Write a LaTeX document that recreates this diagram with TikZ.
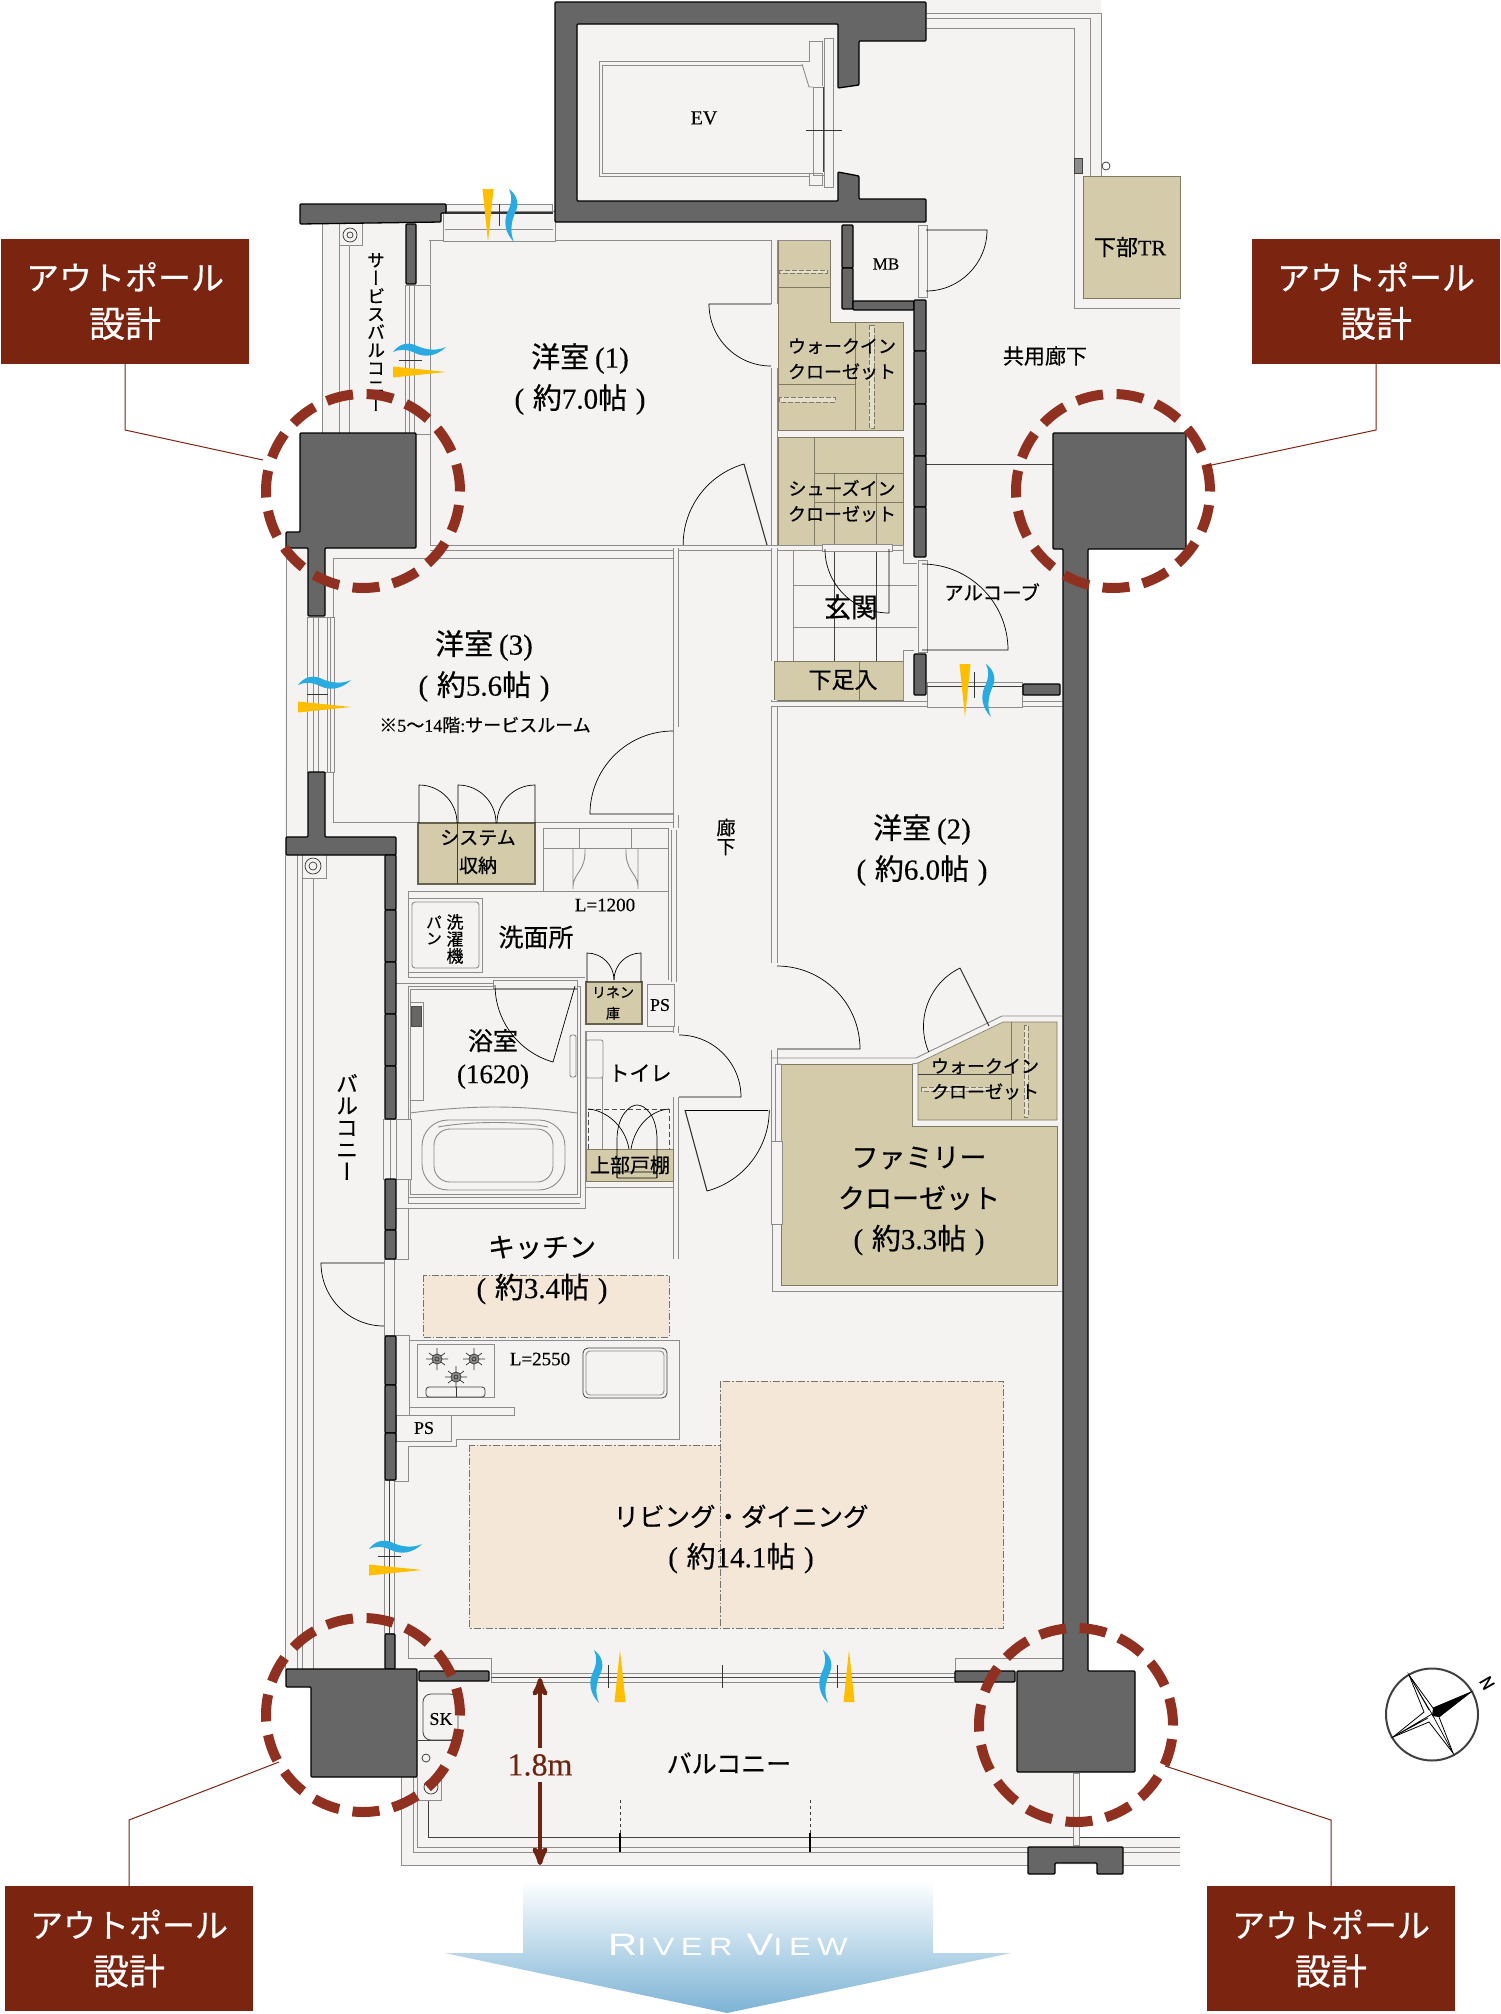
\documentclass[tikz,border=0pt]{standalone}
\usepackage{fontspec}
\setmainfont[FakeBold=0.3]{Liberation Serif}
\newfontfamily\jp[FakeBold=0.5]{Noto Sans CJK JP}
\newfontfamily\jpv[RawFeature={+vert}, FakeBold=0.5]{Noto Sans CJK JP}
\newfontfamily\riverf[LetterSpace=26, FakeStretch=1.3]{Liberation Sans}
\usetikzlibrary{arrows, positioning}
\newcommand{\ja}[1]{{\jp #1}}
\newcommand{\paren}[1]{(\hspace{.3em}#1\hspace{.3em})}
\definecolor{floorc}{HTML}{F4F3F1}
\definecolor{tanc}{HTML}{D3CBA9}
\definecolor{tanl}{HTML}{7E7A64}
\definecolor{wallc}{HTML}{666666}
\definecolor{ringc}{HTML}{8F3020}
\definecolor{boxc}{HTML}{7B2511}
\definecolor{peachc}{HTML}{F4E7D8}
\definecolor{lnc}{HTML}{8C8C8C}
\definecolor{blc}{HTML}{29ABE2}
\definecolor{ylc}{HTML}{FFBE00}
\definecolor{rivc}{HTML}{7CB3D5}
\definecolor{dimc}{HTML}{6E2410}
\tikzset{
  lbl/.style = {align=center, inner sep=0pt, text centered},
  big/.style = {lbl, font=\fontsize{29}{41}\selectfont},
  sml/.style = {lbl, font=\fontsize{18}{25.5}\selectfont},
  tate/.style = {lbl, font=\fontsize{#1}{#1}\selectfont\jpv},
  wbox/.style = {lbl, fill=boxc, text=white, minimum width=248pt, minimum height=125pt,
    font=\fontsize{33}{47}\selectfont},
  ln/.style = {draw=lnc, line width=0.9pt},
  dk/.style = {draw=black!75, line width=0.8pt},
  wl/.style = {draw=lnc, line width=0.9pt, double=floorc, double distance=4.5pt},
  tn/.style = {fill=tanc, draw=tanl, line width=0.6pt},
  tnb/.style = {fill=tanc, draw=tanl!80!black, line width=1.6pt},
  dsh/.style = {draw=tanl, fill=tanc!60!white, line width=0.6pt, dash pattern=on 5pt off 2pt},
  dr/.style = {draw=black, line width=0.7pt},
  leaf/.style = {draw=black!80, line width=1.1pt},
  pl/.style = {fill=wallc, draw=black, line width=1.3pt, rounded corners=1pt},
  ring/.style = {draw=ringc, line width=10pt, dash pattern=on 27pt off 13.6pt},
  cl/.style = {draw=boxc, line width=1pt},
  peach/.style = {fill=peachc, draw=black!55, line width=0.7pt, dash pattern=on 7pt off 2pt on 1.5pt off 2pt},
  wn/.style = {fill=floorc, draw=lnc, line width=0.9pt},
  tick/.style = {draw=black!80, line width=0.7pt},
  dimarrow/.style = {draw=dimc, line width=4.5pt, >=stealth'}
}
\begin{document}
\begin{tikzpicture}[x=1pt, y=-1pt]
\useasboundingbox (0,0) rectangle (1500,2014);

\fill[floorc] (322,210) -- (555,210) -- (555,2) -- (927,2) -- (927,0) -- (1101,0) -- (1101,176)
  -- (1180,176) -- (1180,433) -- (1062,433) -- (1062,1700) -- (1017,1700) -- (1017,1772) -- (1073,1772)
  -- (1073,1837) -- (1180,1837) -- (1180,1865) -- (401,1865) -- (401,1770) -- (320,1770) -- (320,1680)
  -- (285,1680) -- (285,840) -- (286,540) -- (322,540) -- cycle;

\draw[ln] (927,13) -- (1101,13) -- (1101,176);
\draw[ln] (927,18) -- (1090,18) -- (1090,176);
\draw[ln] (927,28) -- (1074,28) -- (1074,308) -- (1180,308);
\draw[tn] (1083,176) -- (1180,176) -- (1180,298) -- (1083,298) -- cycle;
\draw[dk, fill=lnc] (1074,158) rectangle (1082,173);
\draw[dk] (1106,166) circle[radius=4pt];
\draw[dk] (926,464) -- (1053,464);

\draw[ln] (802,61) -- (599,61) -- (599,176) -- (809,176);
\draw[ln] (802,65) -- (602,65) -- (602,173) -- (809,173);
\draw[ln] (599,61) -- (809,61) -- (809,41) -- (822,41) -- (822,86);
\draw[ln] (802,64) -- (809,87) -- (813,87);
\draw[ln] (809,173) rectangle (822,185);
\draw[ln] (824,38) rectangle (833,187);
\draw[ln] (813,87) rectangle (824,175);
\draw[dk] (823,87) -- (823,172);
\draw[tick] (806,130) -- (842,130);
\node[lbl, font=\fontsize{20}{24}\selectfont] (evlbl) at (704,118) {EV};

\fill[tanc] (778,240) -- (830,240) -- (830,322) -- (903,322) -- (903,430) -- (778,430) -- cycle;
\draw[tn] (778,240) -- (830,240) -- (830,322) -- (903,322) -- (903,430) -- (778,430) -- cycle;
\draw[tn] (778,287) -- (830,287) (778,384) -- (855,384) (855,322) -- (855,430);
\draw[dsh] (779,270) rectangle (827,273);
\draw[dsh] (779,397) rectangle (835,402);
\draw[dsh] (869,325) rectangle (874,428);
\draw[tn] (778,437) rectangle (903,545);
\draw[tn] (814,437) -- (814,545) (814,473) -- (903,473) (814,502) -- (903,502) (834,473) -- (834,545) (876,473) -- (876,545);
\draw[tn] (774,661) rectangle (903,700);
\draw[tn] (859,661) -- (859,700);

\draw[ln] (429,240) -- (830,240);
\draw[wl] (774.5,240) -- (774.5,304);
\draw[wl] (774.5,368) -- (774.5,545);
\draw[ln] (430,284) -- (430,240);
\draw[ln] (430,434) -- (430,545);
\draw[wl] (430,548) -- (822,548);
\draw[wl] (892,548) -- (903,548);
\draw[ln] (903,545) -- (903,563) -- (917,563);
\draw[ln] (903,700) -- (903,650) -- (914,650);
\draw[ln] (333,558) rectangle (673,822);
\draw[wl] (676,548) -- (676,727);
\draw[wl] (676,815) -- (676,828);
\draw[wl] (676,1033) -- (676,1026);
\draw[wl] (676,1097) -- (676,1259);
\draw[wl] (774.5,548) -- (774.5,661);
\draw[wl] (774.5,700) -- (774.5,963);
\draw[wl] (774.5,1050) -- (774.5,1141);
\draw[ln] (772,1224) -- (772,1291) -- (1062,1291);
\draw[wl] (771,704) -- (1062,704);
\draw[ln] (793,551) -- (793,661) (793,585) -- (917,585) (793,627) -- (917,627);
\draw[dk] (834,551) -- (834,661) (876,551) -- (876,661);

\draw[tn] (781,1064) -- (912,1064) -- (912,1126) -- (1057,1126) -- (1057,1285) -- (781,1285) -- cycle;
\draw[tn] (918,1063) -- (1003,1022) -- (1057,1022) -- (1057,1120) -- (918,1120) -- cycle;
\draw[tn] (1011,1022) -- (1011,1120);
\draw[dk] (918,1074) -- (1011,1074);
\draw[dsh] (921,1087) rectangle (990,1091);
\draw[dsh] (1024,1025) rectangle (1028,1117);
\draw[ln] (772,1058) -- (916,1058) -- (1002,1016) -- (1062,1016);
\draw[ln] (777,1064) -- (781,1064) (912,1064) -- (918,1063);

\draw[tnb] (418,823) rectangle (535,884);
\draw[dk] (457,823) -- (457,884);
\draw[dr] (419,823) -- (419,785) arc[start angle=90, end angle=0, radius=38pt];
\draw[dr] (458,823) -- (458,785) arc[start angle=90, end angle=0, radius=38pt];
\draw[dr] (535,823) -- (535,785) arc[start angle=90, end angle=180, radius=38pt];

\draw[ln] (543,828) rectangle (668,891);
\draw[ln] (543,848) -- (668,848) (579,828) -- (579,848) (631,828) -- (631,848);
\draw[ln] (573,848) -- (573,889) (585,848) .. controls (586,872) and (574,872) .. (573,886);
\draw[ln] (638,848) -- (638,889) (626,848) .. controls (625,872) and (637,872) .. (638,886);
\draw[ln] (408,891) -- (543,891);
\draw[ln] (408,891) -- (408,977) -- (585,977);
\draw[wl] (674,830) -- (674,982);
\draw[ln] (668,891) -- (668,980);
\draw[ln] (408,898) rectangle (482,972);
\draw[ln, rounded corners=3pt] (412,902) rectangle (479,968);
\draw[ln] (396,983) -- (493,983);

\draw[ln] (408,986) rectangle (580,1197);
\draw[ln] (410,989) rectangle (577,1194);
\draw[ln] (585,1031) -- (585,1208) -- (396,1208);
\draw[ln] (580,1203) -- (408,1203) -- (408,1197);
\draw[wn] (493,980) rectangle (577,988);
\draw[dr] (575,986) -- (553,1062) arc[start angle=254, end angle=180, radius=80pt];
\draw[ln] (410,1002) rectangle (423,1100);
\draw[fill=black!60, draw=black!70] (411,1006) rectangle (421,1026);
\draw[ln, rounded corners=2pt] (570,1035) rectangle (576,1077);
\draw[ln] (410,1113) .. controls (470,1105) and (520,1105) .. (577,1113);
\draw[ln, rounded corners=26pt] (422,1120) rectangle (565,1190);
\draw[ln, rounded corners=16pt] (434,1129) rectangle (553,1182);
\draw[ln] (438,1127) .. controls (470,1121) and (520,1121) .. (548,1127);

\draw[tnb] (586,982) rectangle (642,1024);
\draw[dr] (587,982) -- (587,953) arc[start angle=90, end angle=0, radius=27pt];
\draw[dr] (641,982) -- (641,953) arc[start angle=90, end angle=180, radius=27pt];
\draw[ln] (647,984) rectangle (674,1026);

\draw[ln] (586,1181) -- (586,1031) -- (673,1031);
\draw[ln, rounded corners=2pt] (586,1040) rectangle (603,1078);
\draw[ln] (602,1078) -- (602,1149);
\draw[tn] (586,1149) rectangle (673,1181);
\draw[draw=black!70, line width=0.6pt, dash pattern=on 5pt off 3pt] (588,1149) -- (588,1109) -- (669,1109) -- (669,1149);
\draw[dr] (588,1109) .. controls (605,1110) and (625,1125) .. (629,1149);
\draw[dr] (669,1109) .. controls (652,1110) and (635,1125) .. (631,1149);
\draw[dr] (617,1178) -- (617,1140) .. controls (617,1115) and (630,1105) .. (637,1105) .. controls (645,1105) and (657,1115) .. (657,1140) -- (657,1178);
\draw[dr, rounded corners=1pt] (617,1172) rectangle (657,1178);
\draw[ln] (585,1187) -- (673,1187);

\draw[ln] (408,1208) -- (408,1259) -- (387,1259);
\draw[peach] (423,1275) rectangle (669,1337);
\draw[peach] (469,1445) rectangle (720,1628);
\draw[peach] (720,1381) rectangle (1003,1628);
\draw[ln] (387,1335) -- (409,1335) -- (409,1340) -- (679,1340) -- (679,1439) -- (456,1439) -- (456,1446) -- (408,1446) -- (408,1481) -- (394,1481);
\draw[ln] (409,1340) -- (409,1407);
\draw[ln] (417,1344) rectangle (494,1397);
\foreach \bx/\by in {437/1359, 474/1359, 456/1377} {
  \draw[tick] (\bx-11,\by) -- (\bx+11,\by) (\bx,\by-11) -- (\bx,\by+11)
    (\bx-8,\by-6) -- (\bx+8,\by+6) (\bx-8,\by+6) -- (\bx+8,\by-6);
  \draw[dk, fill=lnc] (\bx,\by) circle[radius=5pt];
  \draw[tick] (\bx,\by) circle[radius=2pt];
}
\draw[dk, rounded corners=3pt] (426,1387) -- (426,1397) -- (485,1397) -- (485,1387) -- cycle;
\draw[tick] (456,1387) -- (456,1397);
\draw[dk, rounded corners=5pt] (583,1348) rectangle (667,1398);
\draw[ln, rounded corners=4pt] (586,1351) rectangle (664,1395);
\draw[ln, fill=floorc] (409,1407) rectangle (514,1415);
\draw[ln] (396,1415) rectangle (451,1441);

\draw[ln] (408,1631) -- (408,1658) -- (491,1658) -- (491,1673);
\draw[ln] (955,1673) -- (955,1658) -- (1063,1658);
\draw[ln] (491,1673) rectangle (955,1682);
\draw[draw=black!70, line width=1.5pt] (491,1677.5) -- (955,1677.5);
\foreach \tx in {608, 722, 837} \draw[tick] (\tx,1665) -- (\tx,1688);

\draw[wn] (443,211) rectangle (555,241);
\draw[wn] (446,204) rectangle (552,211);
\draw[draw=black!80, line width=1.3pt] (445,213) -- (553,213);
\draw[ln] (445,229) -- (553,229);
\draw[tick] (499,204) -- (499,226);
\draw[wn] (405,285) rectangle (430,434);
\draw[ln] (409,285) -- (409,434) (414,285) -- (414,434);
\draw[tick] (399,360) -- (422,360);
\draw[wn] (307,617) rectangle (334,772);
\draw[ln] (313,617) -- (313,772) (318,617) -- (318,772) (327,617) -- (327,772) (330,617) -- (330,772);
\draw[tick] (307,694) -- (328,694);
\draw[wn] (384,1480) rectangle (394,1633);
\draw[dk] (389,1480) -- (389,1633);
\draw[tick] (378,1556) -- (401,1556);
\draw[wn] (384,1259) rectangle (394,1335);
\draw[wn] (383,1119) rectangle (411,1179);
\draw[ln] (390,1119) -- (390,1179) (396,1119) -- (396,1179);
\draw[wn] (927,682) rectangle (1022,707);
\draw[dk] (927,686) -- (1022,686);
\draw[tick] (974,672) -- (974,698);
\draw[wn] (918,225) rectangle (927,297);
\draw[wn] (918,560) rectangle (927,652);
\draw[wn] (771,1141) rectangle (782,1224);
\draw[wn] (775,1064) rectangle (781,1141);
\draw[wn] (822,544) rectangle (892,551);

\draw[dr] (771,304) -- (709,304) arc[start angle=180, end angle=270, radius=62pt];
\draw[leaf] (767,545) -- (744,464);
\draw[dr] (744,464) arc[start angle=106, end angle=180, radius=84pt];
\draw[dr] (926,230) -- (987,230) arc[start angle=0, end angle=-90, radius=61pt];
\draw[dr] (889,549) -- (889,613) arc[start angle=270, end angle=180, radius=64pt];
\draw[dr] (673,814) -- (590,814) arc[start angle=180, end angle=90, radius=83pt];
\draw[dr] (922,650) -- (1008,650) arc[start angle=0, end angle=90, radius=86pt];
\draw[dr] (777,1049) -- (860,1049) arc[start angle=0, end angle=90, radius=83pt];
\draw[leaf] (989,1026) -- (960,968);
\draw[dr] (960,968) arc[start angle=116, end angle=203, radius=65pt];
\draw[dr] (679,1097) -- (741,1097) arc[start angle=0, end angle=90, radius=62pt];
\draw[dr] (685,1110) -- (768,1110);
\draw[leaf] (685,1110) -- (707,1191);
\draw[dr] (707,1191) arc[start angle=285, end angle=360, radius=84pt];
\draw[dr] (384,1263) -- (321,1263) arc[start angle=180, end angle=270, radius=63pt];

\draw[ln] (322,224) -- (322,434) (339,224) -- (339,434) (349,245) -- (349,434);
\draw[ln] (339,245) -- (362,245) -- (362,224);
\draw[tick] (350,235) circle[radius=7pt];
\draw[tick] (350,235) circle[radius=3pt];
\draw[ln] (285,855) -- (285,1669) (297,855) -- (297,1669) (302,855) -- (302,1669) (313,878) -- (313,1669);
\draw[ln] (302,878) -- (326,878) -- (326,855);
\draw[tick] (313,866) circle[radius=8pt];
\draw[tick] (313,866) circle[radius=4pt];
\draw[ln] (286,540) -- (286,837);

\draw[ln] (401,1777) -- (401,1865) -- (1028,1865);
\draw[ln] (1123,1865) -- (1180,1865);
\draw[ln] (413,1777) -- (413,1852) -- (1028,1852);
\draw[ln] (1123,1852) -- (1180,1852);
\draw[ln] (417,1777) -- (417,1847) -- (1028,1847);
\draw[ln] (1123,1847) -- (1180,1847);
\draw[dk] (428,1800) -- (428,1837) -- (1180,1837);
\draw[ln] (417,1800) -- (441,1800) -- (441,1777);
\draw[tick] (431,1787) circle[radius=7pt];
\foreach \px in {620, 810} {
  \draw[dk, dashed] (\px,1800) -- (\px,1833);
  \draw[draw=black, line width=1.5pt] (\px,1833) -- (\px,1852);
}
\draw[wn] (1073,1773) rectangle (1079,1845);
\draw[dk, rounded corners=8pt] (423,1694) rectangle (458,1740);
\draw[dk] (418,1740) -- (458,1740);
\draw[dk] (426,1758) circle[radius=4pt];

\draw[pl] (555,2) -- (926,2) -- (926,41) -- (859,41) -- (859,85) -- (838,88) -- (838,24) -- (577,24)
  -- (577,201) -- (838,201) -- (838,172) -- (859,176) -- (859,199) -- (926,199) -- (926,222) -- (555,222) -- cycle;
\draw[pl] (300,204) -- (446,204) -- (446,213) -- (441,213) -- (441,222) -- (300,224) -- cycle;
\draw[pl] (406,224) rectangle (416,284);
\draw[pl] (300,433) -- (416,433) -- (416,548) -- (325,548) -- (325,616) -- (308,616) -- (308,548) -- (286,548) -- (286,532) -- (300,532) -- cycle;
\draw[pl] (308,772) -- (325,772) -- (325,837) -- (396,837) -- (396,855) -- (286,855) -- (286,837) -- (308,837) -- cycle;
\foreach \ya/\yb in {855/910, 910/962, 962/1014, 1014/1066, 1066/1119, 1179/1230, 1230/1259, 1336/1385, 1385/1433, 1433/1480}
  \draw[pl] (385,\ya) rectangle (396,\yb);
\draw[pl] (385,1634) rectangle (395,1669);
\draw[pl] (842,225) rectangle (853,268);
\draw[pl] (842,268) rectangle (853,309);
\draw[pl] (853,301) rectangle (914,310);
\foreach \ya/\yb in {300/351, 351/404, 404/456, 456/507, 507/557}
  \draw[pl] (914,\ya) rectangle (926,\yb);
\draw[pl] (914,654) rectangle (926,695);
\draw[pl] (1023,684) rectangle (1060,695);
\draw[pl] (1053,433) -- (1186,433) -- (1186,549) -- (1088,549) -- (1088,1671) -- (1135,1671) -- (1135,1772) -- (1017,1772) -- (1017,1671) -- (1063,1671) -- (1063,549) -- (1053,549) -- cycle;
\draw[pl] (286,1669) -- (417,1669) -- (417,1777) -- (311,1777) -- (311,1687) -- (286,1687) -- cycle;
\draw[pl] (419,1671) rectangle (489,1681);
\draw[pl] (955,1671) rectangle (1015,1682);
\draw[pl] (1028,1847) -- (1123,1847) -- (1123,1874) -- (1097,1874) -- (1097,1863) -- (1055,1863) -- (1055,1874) -- (1028,1874) -- cycle;

\foreach \wx/\wy in {393/352, 298/685, 369/1549}
  \fill[blc, shift={(\wx,\wy)}] (0,0) .. controls (6,-8) and (14,-10) .. (22,-7) .. controls (30,-3) and (42,0) .. (53,-5)
    .. controls (44,4) and (32,6) .. (22,1) .. controls (14,-3) and (6,-3) .. (0,0);
\foreach \wx/\wy in {393/372, 298/707, 369/1570}
  \fill[ylc] (\wx,\wy-5.5) -- (\wx+53,\wy) -- (\wx,\wy+5.5) -- cycle;
\foreach \wx/\wy in {509/189, 986/664, 594/1650, 823/1650}
  \fill[blc, shift={(\wx,\wy)}] (0,0) .. controls (8,6) and (10,14) .. (7,22) .. controls (3,30) and (0,42) .. (5,53)
    .. controls (-4,44) and (-6,32) .. (-1,22) .. controls (3,14) and (3,6) .. (0,0);
\foreach \wx/\wy in {488/189, 965/664}
  \fill[ylc] (\wx-5.5,\wy) -- (\wx+5.5,\wy) -- (\wx,\wy+53) -- cycle;
\foreach \wx in {620, 849}
  \fill[ylc] (\wx-5.5,1702) -- (\wx+5.5,1702) -- (\wx,1650) -- cycle;

\node[big] (room1) at (580,379) {\ja{洋室}\hspace{.2em}(1)\\\paren{\ja{約}7.0\ja{帖}}};
\node[big] (room3) at (484,666) {\ja{洋室}\hspace{.2em}(3)\\\paren{\ja{約}5.6\ja{帖}}};
\node[lbl, font=\fontsize{18}{20}\selectfont] (room3note) at (485,725) {\ja{※}5\ja{〜}14\ja{階}:\ja{サービスルーム}};
\node[big] (room2) at (922,850) {\ja{洋室}\hspace{.2em}(2)\\\paren{\ja{約}6.0\ja{帖}}};
\node[big, font=\fontsize{27}{41}\selectfont] (famcl) at (919,1201) {\ja{ファミリー}\\\ja{クローゼット}\\{\fontsize{29}{41}\selectfont\paren{\ja{約}3.3\ja{帖}}}};
\node[big, font=\fontsize{27}{41}\selectfont] (kitch) at (542,1270) {\ja{キッチン}\\{\fontsize{29}{41}\selectfont\paren{\ja{約}3.4\ja{帖}}}};
\node[big, font=\fontsize{25.5}{41}\selectfont] (living) at (741,1539) {\ja{リビング・ダイニング}\\{\fontsize{29}{41}\selectfont\paren{\ja{約}14.1\ja{帖}}}};
\node[sml] (wic1) at (842,359) {\ja{ウォークイン}\\\ja{クローゼット}};
\node[sml] (sic) at (842,501) {\ja{シューズイン}\\\ja{クローゼット}};
\node[sml] (wic2) at (985,1079) {\ja{ウォークイン}\\\ja{クローゼット}};
\node[sml, font=\fontsize{21}{24}\selectfont] (kyoyo) at (1045,356) {\ja{共用廊下}};
\node[sml, font=\fontsize{19.5}{24}\selectfont] (alc) at (992,592) {\ja{アルコーブ}};
\node[lbl, font=\fontsize{27}{30}\selectfont] (genkan) at (851,607) {\ja{玄関}};
\node[lbl, font=\fontsize{23}{26}\selectfont] (getabako) at (843,680) {\ja{下足入}};
\node[lbl, font=\fontsize{22}{24}\selectfont] (tr) at (1130,247) {\ja{下部}TR};
\node[lbl, font=\fontsize{17}{20}\selectfont] (mb) at (886,264) {MB};
\node[lbl, font=\fontsize{19}{28}\selectfont] (sys) at (478,852) {\ja{システム}\\\ja{収納}};
\node[lbl, font=\fontsize{19}{21}\selectfont] (l1200) at (605,905) {L=1200};
\node[lbl, font=\fontsize{25}{28}\selectfont] (senmen) at (536,937) {\ja{洗面所}};
\node[tate=16] (pan) at (434,930) {パ\\ン};
\node[tate=17] (sentaku) at (455,939) {洗\\濯\\機};
\node[big, font=\fontsize{27}{33}\selectfont] (bath) at (493,1059) {{\fontsize{25}{33}\selectfont\ja{浴室}}\\(1620)};
\node[lbl, font=\fontsize{14}{21}\selectfont] (linen) at (613,1003) {\ja{リネン}\\\ja{庫}};
\node[lbl, font=\fontsize{18}{20}\selectfont] (ps1) at (660,1005) {PS};
\node[lbl, font=\fontsize{21}{24}\selectfont] (toilet) at (640,1073) {\ja{トイレ}};
\node[lbl, font=\fontsize{20}{22}\selectfont] (jobu) at (630,1165) {\ja{上部戸棚}};
\node[tate=19] (roka) at (726,837) {廊\\下};
\node[lbl, font=\fontsize{19}{21}\selectfont] (l2550) at (540,1359) {L=2550};
\node[lbl, font=\fontsize{18}{20}\selectfont] (ps2) at (424,1428) {PS};
\node[lbl, font=\fontsize{18}{20}\selectfont] (sk) at (441,1719) {SK};
\node[lbl, font=\fontsize{25}{28}\selectfont] (balS) at (729,1763) {\ja{バルコニー}};
\node[tate=22] (balW) at (347,1127) {バ\\ル\\コ\\ニ\\ー};
\node[tate=18] (balN) at (376,332) {サ\\ー\\ビ\\ス\\バ\\ル\\コ\\ニ\\ー};

\coordinate (dimtop) at (540,1678);
\coordinate (dimbot) at (540,1865);
\node[lbl, text=dimc, font=\fontsize{32}{34}\selectfont] (dim) at (540,1765) {1.8m};
\draw[dimarrow, ->] (dim.north) ++(0,-6) -- (dimtop);
\draw[dimarrow, ->] (dim.south) ++(0,6) -- (dimbot);

\foreach \rx/\ry in {363/491, 1113/491, 363/1715, 1076/1725}
  \draw[ring] (\rx,\ry) circle[radius=97pt];

\node[wbox] (awNW) at (125,301) {\ja{アウトポール}\\{\fontsize{36}{47}\selectfont\ja{設計}}};
\node[wbox] (awNE) at (1376,301) {\ja{アウトポール}\\{\fontsize{36}{47}\selectfont\ja{設計}}};
\node[wbox] (awSW) at (129,1948.5) {\ja{アウトポール}\\{\fontsize{36}{47}\selectfont\ja{設計}}};
\node[wbox] (awSE) at (1331,1948.5) {\ja{アウトポール}\\{\fontsize{36}{47}\selectfont\ja{設計}}};
\coordinate (kneeNW) at (125,430);
\coordinate (kneeNE) at (1376,430);
\coordinate (kneeSW) at (129,1820);
\coordinate (kneeSE) at (1331,1820);
\coordinate (ringNW) at (263,460);
\coordinate (ringNE) at (1207,466);
\coordinate (ringSW) at (279,1762);
\coordinate (ringSE) at (1165,1766);
\draw[cl] (awNW.south) -- (kneeNW) -- (ringNW);
\draw[cl] (awNE.south) -- (kneeNE) -- (ringNE);
\draw[cl] (awSW.north) -- (kneeSW) -- (ringSW);
\draw[cl] (awSE.north) -- (kneeSE) -- (ringSE);

\shade[top color=white, bottom color=rivc] (523,1880) -- (933,1880) -- (933,1953) -- (1011,1953) -- (727,2013) -- (445,1953) -- (523,1953) -- cycle;
\node[lbl, text=white, font=\riverf] (river) at (728,1945) {{\fontsize{31}{34}\selectfont R}{\fontsize{25}{34}\selectfont IVER}\hspace{14pt}{\fontsize{31}{34}\selectfont V}{\fontsize{25}{34}\selectfont IEW}};

\draw[draw=black!75, line width=2pt] (1432,1714.5) circle[radius=46pt];
\draw[draw=black, line width=0.8pt, fill=white] (1409,1675) -- (1433,1708) -- (1471,1692) -- (1439,1717) -- (1453,1753) -- (1429,1722) -- (1393,1737) -- (1424,1712) -- cycle;
\draw[draw=black, line width=0.7pt] (1409,1675) -- (1432,1714) -- (1453,1753) (1393,1737) -- (1432,1714) (1409,1675) -- (1429,1710) (1393,1737) -- (1428,1718);
\fill[black] (1471,1692) -- (1433,1708) -- (1432,1716) -- (1439,1717) -- cycle;
\node[lbl, rotate=-60, font=\fontsize{17}{20}\selectfont\jp] (north) at (1487,1683) {N};
\end{tikzpicture}
\end{document}
